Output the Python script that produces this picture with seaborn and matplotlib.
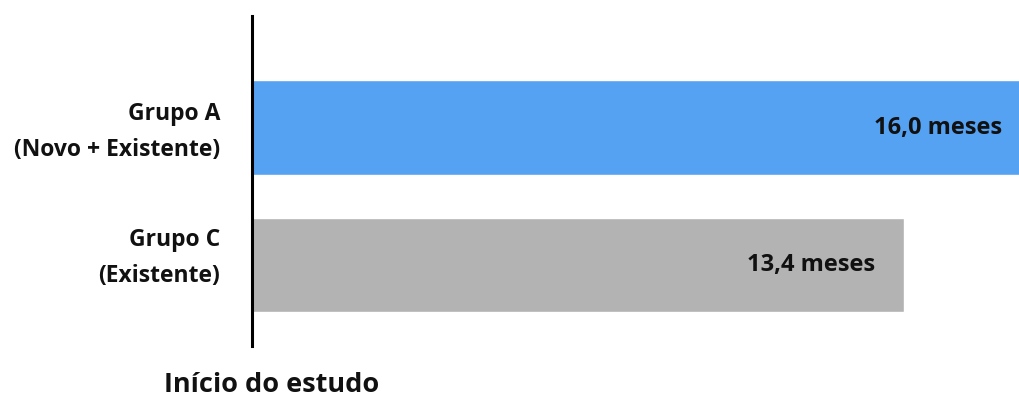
import matplotlib
matplotlib.use("Agg")
import matplotlib.pyplot as plt
import matplotlib.transforms as mtransforms
import seaborn as sns
import pandas as pd

categories = ["Grupo A\n(Novo + Existente)", "Grupo C\n(Existente)"]
values = [16.0, 13.4]
value_labels = ["16,0 meses", "13,4 meses"]
colors = ["#55A2F3", "#B3B3B3"]
axis_label = "Início do estudo"

sns.set_theme(style="white")
plt.rcParams["font.family"] = ["Open Sans", "DejaVu Sans"]

df = pd.DataFrame({"cat": categories, "val": values})

fig = plt.figure(figsize=(10.2, 3.99), dpi=100)
ax = fig.add_axes([252 / 1020, (399 - 346) / 399, 1 - 252 / 1020, 330 / 399])

sns.barplot(data=df, x="val", y="cat", hue="cat", palette=colors, legend=False,
            width=0.69, ax=ax, saturation=1, orient="h")

ax.set_xlim(0, 15.78)
ax.set_ylim(1.589, -0.811)

for i, (v, lab) in enumerate(zip(values, value_labels)):
    ax.annotate(lab, xy=(v, i), xytext=(-29, 0), textcoords="offset pixels",
                ha="right", va="center", fontsize=17, fontweight="bold",
                color="#111111", annotation_clip=False, clip_on=False)

for s in ["top", "right", "bottom"]:
    ax.spines[s].set_visible(False)
ax.spines["left"].set_color("black")
ax.spines["left"].set_linewidth(2.2)

ax.set_xticks([])
ax.set_xlabel("")
ax.set_ylabel("")
ax.tick_params(axis="y", length=0, pad=23)
label_shift_px = [5, 16]
for t, dy in zip(ax.get_yticklabels(), label_shift_px):
    t.set_fontsize(16.5)
    t.set_fontweight("bold")
    t.set_ha("right")
    t.set_multialignment("right")
    t.set_linespacing(1.68)
    t.set_color("#111111")
    t.set_transform(t.get_transform() +
                    mtransforms.Affine2D().translate(0, dy))

fig.text(272 / 1020, (399 - 385) / 399, axis_label, ha="center", va="center",
         fontsize=19.5, fontweight="bold", color="#111111")

fig.savefig("out.png", dpi=100)
